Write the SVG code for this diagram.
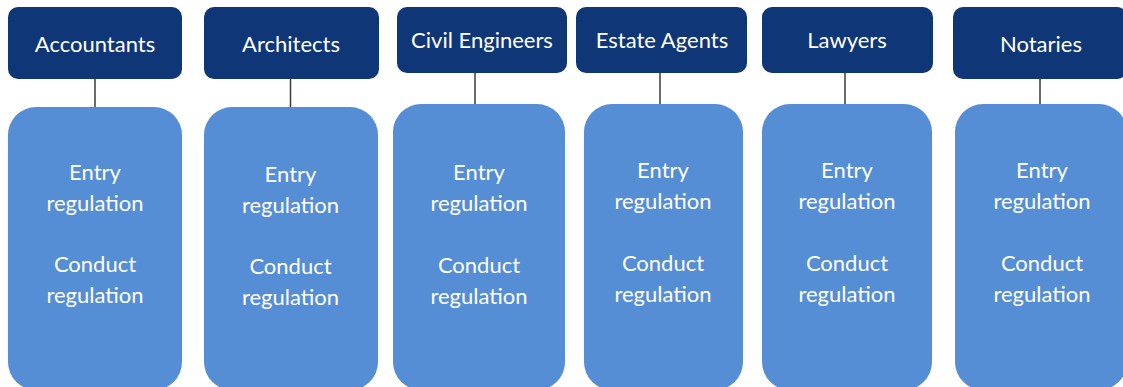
<svg xmlns="http://www.w3.org/2000/svg" width="1123" height="387" viewBox="0 0 1123 387">
<style>
.hdr{fill:#0F3778;}
.body{fill:#558ED5;}
.conn line{stroke:#3a3a3a;stroke-width:1.5;}
text{font-family:Lato,"Open Sans","Liberation Sans",sans-serif;fill:#FFFFFF;font-size:22px;text-anchor:middle;}
</style>
<rect width="1123" height="387" fill="#FFFFFF"/>
<g id="connectors" class="conn">
<line x1="95" y1="79" x2="95" y2="107"/>
<line x1="290.5" y1="74" x2="290.5" y2="107"/>
<line x1="475" y1="72" x2="475" y2="104"/>
<line x1="660" y1="73" x2="660" y2="107"/>
<line x1="845" y1="72" x2="845" y2="104"/>
<line x1="1040" y1="74" x2="1040" y2="107"/>
</g>
<g id="accountants">
<rect class="hdr" x="8" y="7" width="174" height="72" rx="10"/>
<text x="95" y="52">Accountants</text>
</g>
<g id="accountants-body">
<rect class="body" x="8" y="107" width="174" height="283" rx="28"/>
<text x="95" y="179.5">Entry</text>
<text x="95" y="210.5">regulation</text>
<text x="95" y="272">Conduct</text>
<text x="95" y="303">regulation</text>
</g>
<g id="architects">
<rect class="hdr" x="204" y="7" width="175" height="72" rx="10"/>
<text x="291" y="52">Architects</text>
</g>
<g id="architects-body">
<rect class="body" x="204" y="107" width="174" height="283" rx="28"/>
<text x="290.5" y="181.5">Entry</text>
<text x="290.5" y="212.5">regulation</text>
<text x="290.5" y="274">Conduct</text>
<text x="290.5" y="305">regulation</text>
</g>
<g id="civil-engineers">
<rect class="hdr" x="397" y="7" width="170" height="66" rx="10"/>
<text x="482" y="48">Civil Engineers</text>
</g>
<g id="civil-engineers-body">
<rect class="body" x="393" y="104" width="172" height="286" rx="28"/>
<text x="479" y="180">Entry</text>
<text x="479" y="210.7">regulation</text>
<text x="479" y="272.5">Conduct</text>
<text x="479" y="304">regulation</text>
</g>
<g id="estate-agents">
<rect class="hdr" x="576" y="7" width="171" height="66" rx="10"/>
<text x="662" y="48">Estate Agents</text>
</g>
<g id="estate-agents-body">
<rect class="body" x="584" y="104" width="159" height="286" rx="28"/>
<text x="663" y="178.3">Entry</text>
<text x="663" y="209.3">regulation</text>
<text x="663" y="270.7">Conduct</text>
<text x="663" y="301.7">regulation</text>
</g>
<g id="lawyers">
<rect class="hdr" x="762" y="7" width="171" height="66" rx="10"/>
<text x="847" y="48">Lawyers</text>
</g>
<g id="lawyers-body">
<rect class="body" x="762" y="104" width="170" height="286" rx="28"/>
<text x="847" y="178.3">Entry</text>
<text x="847" y="209.3">regulation</text>
<text x="847" y="270.7">Conduct</text>
<text x="847" y="301.7">regulation</text>
</g>
<g id="notaries">
<rect class="hdr" x="953" y="7" width="174" height="72" rx="10"/>
<text x="1041" y="52">Notaries</text>
</g>
<g id="notaries-body">
<rect class="body" x="955" y="104" width="172" height="286" rx="28"/>
<text x="1042" y="178.3">Entry</text>
<text x="1042" y="209.3">regulation</text>
<text x="1042" y="270.7">Conduct</text>
<text x="1042" y="301.7">regulation</text>
</g>
</svg>
